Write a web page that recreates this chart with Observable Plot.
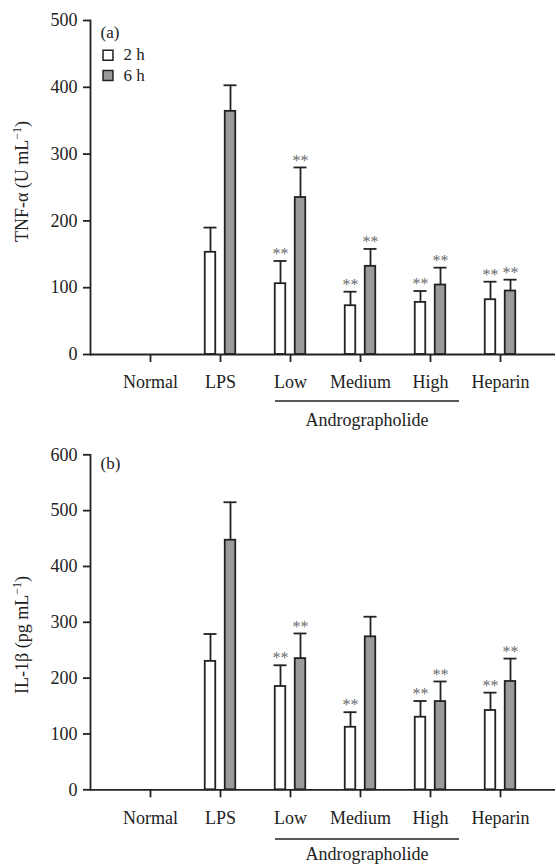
<!DOCTYPE html>
<html><head><meta charset="utf-8">
<script src="https://cdn.jsdelivr.net/npm/d3@7"></script>
<script src="https://cdn.jsdelivr.net/npm/@observablehq/plot@0.6"></script>
<style>
body{margin:0;background:#fff;}
#wrap{width:556px;}
svg{display:block;}
</style></head><body><div id="wrap"></div>
<script>
// ---- data ----
const categories = ["Normal", "LPS", "Low", "Medium", "High", "Heparin"];
const seriesNames = ["2 h", "6 h"];
const groupLabel = "Andrographolide";
const groupMembers = ["Low", "High"];

const tnf2h    = [null, 153, 106, 73, 78, 82];
const tnf2hErr = [null, 37, 34, 21, 17, 27];
const tnf6h    = [null, 364, 235, 132, 104, 95];
const tnf6hErr = [null, 39, 45, 26, 26, 17];
const tnfSig2h = [false, false, true, true, true, true];
const tnfSig6h = [false, false, true, true, true, true];
const tnfTicks = [0, 100, 200, 300, 400, 500];

const il2h    = [null, 230, 185, 112, 130, 142];
const il2hErr = [null, 49, 38, 27, 29, 32];
const il6h    = [null, 447, 235, 274, 158, 194];
const il6hErr = [null, 68, 45, 36, 36, 41];
const ilSig2h = [false, false, true, true, true, true];
const ilSig6h = [false, false, true, false, true, true];
const ilTicks = [0, 100, 200, 300, 400, 500, 600];

const ink = "#222";
const font = "'Liberation Serif', 'Times New Roman', serif";

function rows(vals, errs, sigs) {
  return categories.map((c, i) => ({cat: c, v: vals[i], e: errs[i], sig: sigs[i]}))
    .filter(d => d.v != null);
}

function makeChart(opt) {
  const r2 = rows(opt.v2, opt.e2, opt.s2);
  const r6 = rows(opt.v6, opt.e6, opt.s6);
  const sw = 1.8;
  const marks = [
    Plot.axisY({ticks: opt.ticks, tickSize: 7, tickPadding: 6, label: null, tickFormat: d => String(d), stroke: ink, strokeWidth: sw, fill: ink}),
    Plot.axisX({tickSize: 8, tickPadding: 13, label: null, stroke: ink, strokeWidth: sw, fill: ink}),
    // bars
    Plot.barY(r2, {x: "cat", y: "v", fill: "white", stroke: ink, strokeWidth: sw, insetLeft: 4.75, insetRight: 24.75}),
    Plot.barY(r6, {x: "cat", y: "v", fill: "#9a9a9a", stroke: ink, strokeWidth: sw, insetLeft: 24.75, insetRight: 4.75}),
    // error bars
    Plot.ruleX(r2, {x: "cat", y1: "v", y2: d => d.v + d.e, dx: -10, stroke: ink, strokeWidth: sw}),
    Plot.ruleX(r6, {x: "cat", y1: "v", y2: d => d.v + d.e, dx: 10, stroke: ink, strokeWidth: sw}),
    Plot.tickY(r2, {x: "cat", y: d => d.v + d.e, insetLeft: 3.5, insetRight: 23.5, stroke: ink, strokeWidth: sw}),
    Plot.tickY(r6, {x: "cat", y: d => d.v + d.e, insetLeft: 23.5, insetRight: 3.5, stroke: ink, strokeWidth: sw}),
    // significance stars
    Plot.text(r2.filter(d => d.sig), {x: "cat", y: d => d.v + d.e, text: () => "**", dx: -10, dy: -7, fill: "#6a6a6a", fontSize: 16}),
    Plot.text(r6.filter(d => d.sig), {x: "cat", y: d => d.v + d.e, text: () => "**", dx: 10, dy: -7, fill: "#6a6a6a", fontSize: 16}),
    // axis lines
    Plot.ruleY([0], {stroke: ink, strokeWidth: sw}),
    Plot.frame({anchor: "left", stroke: ink, strokeWidth: sw}),
    // panel label
    Plot.text([opt.panel], {frameAnchor: "top-left", text: d => d, dx: 10, dy: opt.panelDy, textAnchor: "start", lineAnchor: "middle", fill: ink, fontSize: 17})
  ];
  if (opt.legend) {
    const fills = ["white", "#9a9a9a"];
    seriesNames.forEach((s, i) => {
      marks.push(Plot.dot([s], {frameAnchor: "top-left", dx: 17.5, dy: 34.7 + i * 20.3, symbol: "square", r: 5.6, fill: fills[i], stroke: ink, strokeWidth: 1.5}));
      marks.push(Plot.text([s], {frameAnchor: "top-left", text: d => d, dx: 33, dy: 34.5 + i * 20.3, textAnchor: "start", lineAnchor: "middle", fill: ink, fontSize: 17}));
    });
  }
  const p = Plot.plot({
    width: 556, height: opt.height,
    marginTop: opt.marginTop, marginBottom: opt.marginBottom, marginLeft: 90, marginRight: 1,
    style: {fontFamily: font, fontSize: "18px", color: ink, background: "white", overflow: "visible"},
    x: {domain: categories, paddingInner: 0.434, paddingOuter: 0.505, align: 0.534},
    y: {domain: [0, opt.ticks[opt.ticks.length - 1]]},
    marks
  });
  // group bracket + y label, positioned with the plot's own scales
  const xs = p.scale("x"), ys = p.scale("y");
  const bw = xs.bandwidth;
  const cx = c => xs.apply(c) + bw / 2;
  const y0 = ys.apply(0);
  const svg = d3.select(p);
  svg.append("line")
    .attr("x1", cx(groupMembers[0]) - 15).attr("x2", cx(groupMembers[1]) + 29)
    .attr("y1", y0 + opt.bracketDy).attr("y2", y0 + opt.bracketDy)
    .attr("stroke", ink).attr("stroke-width", 1.6);
  svg.append("text")
    .attr("x", (cx(groupMembers[0]) - 15 + cx(groupMembers[1]) + 29) / 2)
    .attr("y", y0 + opt.groupTextDy).attr("dy", "0.23em")
    .attr("text-anchor", "middle").attr("fill", ink).attr("font-size", 18)
    .attr("font-family", font)
    .text(groupLabel);
  const t = svg.append("text")
    .attr("transform", `translate(28,${opt.yLabelY}) rotate(-90)`)
    .attr("text-anchor", "middle").attr("fill", ink).attr("font-size", 18)
    .attr("font-family", font);
  t.append("tspan").text(opt.yLabel);
  t.append("tspan").attr("font-size", 12).attr("dy", "-0.6em").text("\u22121");
  t.append("tspan").attr("dy", "0.4em").text(")");
  return p;
}

const wrap = document.getElementById("wrap");
wrap.appendChild(makeChart({
  v2: tnf2h, e2: tnf2hErr, s2: tnfSig2h, v6: tnf6h, e6: tnf6hErr, s6: tnfSig6h,
  ticks: tnfTicks, height: 438, marginTop: 20, marginBottom: 84,
  panel: "(a)", panelDy: 11.7, legend: true,
  bracketDy: 47, groupTextDy: 67.7, yLabel: "TNF-\u03b1 (U mL", yLabelY: 181.5
}));
wrap.appendChild(makeChart({
  v2: il2h, e2: il2hErr, s2: ilSig2h, v6: il6h, e6: il6hErr, s6: ilSig6h,
  ticks: ilTicks, height: 427, marginTop: 16.3, marginBottom: 75.7,
  panel: "(b)", panelDy: 9, legend: false,
  bracketDy: 49.7, groupTextDy: 66.5, yLabel: "IL-1\u03b2 (pg mL", yLabelY: 197
}));
</script></body></html>
